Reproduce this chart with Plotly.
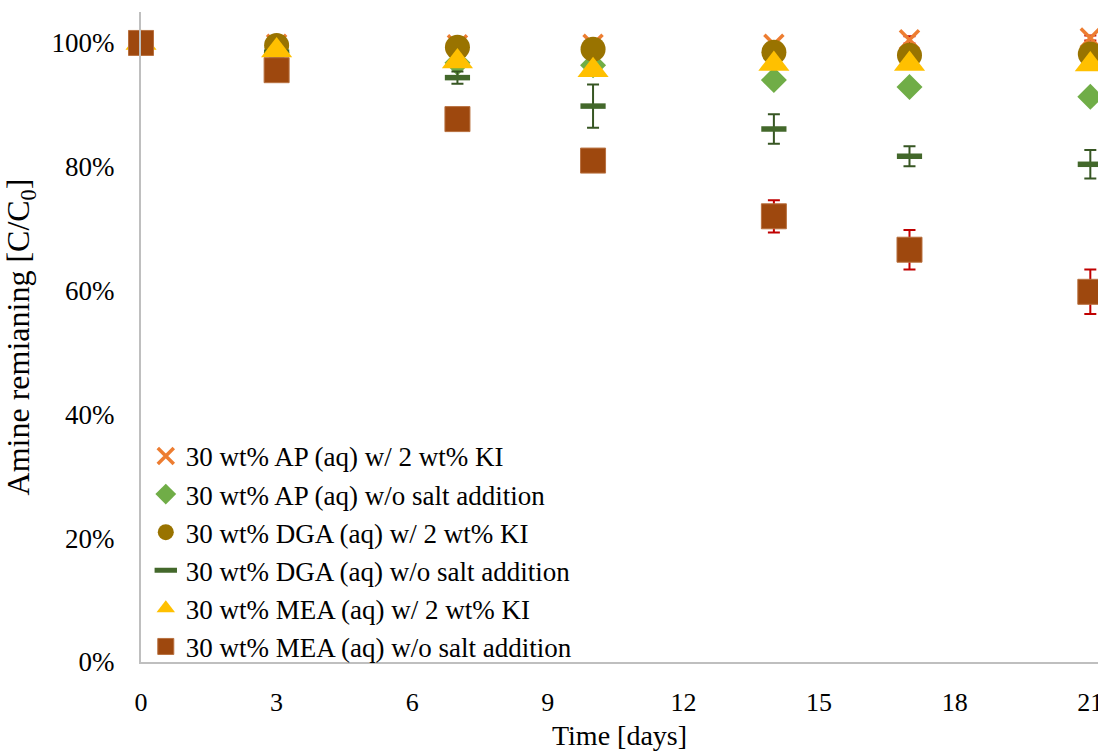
import plotly.graph_objects as go

days = [0, 3, 7, 10, 14, 17, 21]

ap_ki = [1.000, 0.998, 0.997, 0.998, 0.998, 1.005, 1.008]
ap_ki_err = [0, 0, 0, 0, 0, 0.006, 0.004]
ap_no = [1.000, 0.985, 0.968, 0.964, 0.940, 0.929, 0.913]
dga_ki = [1.000, 0.996, 0.993, 0.990, 0.985, 0.980, 0.982]
dga_no = [1.000, 0.985, 0.944, 0.898, 0.861, 0.817, 0.804]
dga_no_err = [0, 0, 0.010, 0.035, 0.024, 0.016, 0.023]
mea_ki = [1.000, 0.988, 0.970, 0.956, 0.966, 0.966, 0.965]
mea_no = [1.000, 0.956, 0.877, 0.810, 0.720, 0.666, 0.598]
mea_no_err = [0, 0, 0, 0, 0.026, 0.032, 0.036]

names = [
    "30 wt% AP (aq) w/ 2 wt% KI",
    "30 wt% AP (aq) w/o salt addition",
    "30 wt% DGA (aq) w/ 2 wt% KI",
    "30 wt% DGA (aq) w/o salt addition",
    "30 wt% MEA (aq) w/ 2 wt% KI",
    "30 wt% MEA (aq) w/o salt addition",
]

x_ticks = [0, 3, 6, 9, 12, 15, 18, 21]
y_ticks = [0, 0.2, 0.4, 0.6, 0.8, 1.0]
y_tick_text = ["0%", "20%", "40%", "60%", "80%", "100%"]

FONT = "Liberation Serif, Times New Roman, serif"

fig = go.Figure()

fig.add_trace(go.Scatter(
    x=days, y=ap_ki, mode="markers", name=names[0],
    marker=dict(symbol="x-thin", size=19, color="#ED7D31",
                line=dict(color="#ED7D31", width=3.5)),
    error_y=dict(type="data", array=ap_ki_err, color="#C00000", thickness=2, width=6),
    cliponaxis=False))
fig.add_trace(go.Scatter(
    x=days, y=ap_no, mode="markers", name=names[1],
    marker=dict(symbol="diamond", size=20, color="#70AD47"),
    cliponaxis=False))
fig.add_trace(go.Scatter(
    x=days, y=dga_ki, mode="markers", name=names[2],
    marker=dict(symbol="circle", size=25, color="#997300"),
    cliponaxis=False))
fig.add_trace(go.Scatter(
    x=days, y=dga_no, mode="markers", name=names[3],
    marker=dict(symbol="line-ew", size=18, color="#43682B",
                line=dict(color="#43682B", width=5.5)),
    error_y=dict(type="data", array=dga_no_err, color="#375623", thickness=2, width=6),
    cliponaxis=False))
fig.add_trace(go.Scatter(
    x=days, y=mea_ki, mode="markers", name=names[4],
    marker=dict(symbol="triangle-up", size=27, color="#FFC000"),
    cliponaxis=False))
fig.add_trace(go.Scatter(
    x=days, y=mea_no, mode="markers", name=names[5],
    marker=dict(symbol="square", size=25, color="#9E480E",
                line=dict(color="#B8703F", width=1)),
    error_y=dict(type="data", array=mea_no_err, color="#C00000", thickness=2, width=6),
    cliponaxis=False))

fig.update_layout(
    width=1098, height=751,
    margin=dict(l=141, r=0, t=12, b=89, autoexpand=False),
    paper_bgcolor="white", plot_bgcolor="white",
    font=dict(family=FONT, size=28, color="black"),
    showlegend=True,
    legend=dict(x=0.005, y=0.354, xanchor="left", yanchor="top",
                bgcolor="rgba(0,0,0,0)", borderwidth=0,
                font=dict(family=FONT, size=27, color="black"),
                itemwidth=30),
    xaxis=dict(range=[0, 21.17], tickmode="array", tickvals=x_ticks,
               ticktext=[str(v) for v in x_ticks], automargin=False,
               showgrid=False, zeroline=False, showline=True,
               linecolor="#BFBFBF", linewidth=2,
               ticks="outside", ticklen=16, tickcolor="rgba(0,0,0,0)",
               ticklabeloverflow="allow",
               tickfont=dict(family=FONT, size=26, color="black"),
               title=dict(text="Time [days]", standoff=18,
                          font=dict(family=FONT, size=28, color="black"))),
    yaxis=dict(range=[0, 1.05], tickmode="array", tickvals=y_ticks,
               ticktext=y_tick_text, automargin=True,
               showgrid=False, zeroline=False, showline=True,
               linecolor="#BFBFBF", linewidth=2,
               ticks="outside", ticklen=19, tickcolor="rgba(0,0,0,0)",
               tickfont=dict(family=FONT, size=27, color="black"),
               title=dict(text="Amine remianing [C/C<sub>0</sub>]", standoff=14,
                          font=dict(family=FONT, size=32, color="black"))),
)

post = "document.body.style.margin='0';document.body.style.overflow='hidden';"
fig.write_html("out.html", config={"displayModeBar": False}, post_script=post)
